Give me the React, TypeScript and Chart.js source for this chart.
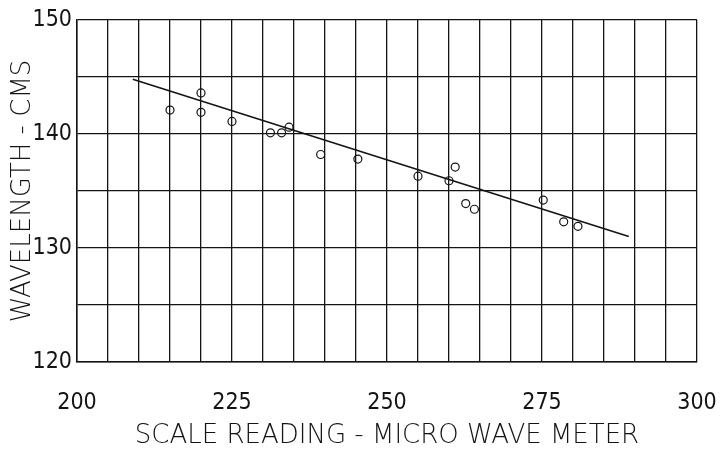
import { useEffect, useRef } from "react";
import { Chart, registerables } from "chart.js";

Chart.register(...registerables);

// Measured points: scale reading of the micro wave meter vs wavelength (cm)
const scaleReading = [215, 220, 220, 225, 231.2, 233, 234.2, 239.3, 245.3, 255, 260, 261, 262.7, 264.1, 275.2, 278.5, 280.8];
const wavelength = [142.1, 143.6, 141.9, 141.1, 140.1, 140.1, 140.6, 138.2, 137.8, 136.3, 135.9, 137.1, 133.9, 133.4, 134.2, 132.3, 131.9];

// Fitted straight line (end points)
const fitLineX = [209, 289];
const fitLineY = [144.8, 131.0];

// Labelled ticks
const xTickLabels = [200, 225, 250, 275, 300];
const yTickLabels = [120, 130, 140, 150];

const xTitle = "SCALE READING - MICRO WAVE METER";
const yTitle = "WAVELENGTH - CMS";

const INK = "#141414";
const tickFont = { family: "'Liberation Sans Narrow', 'DejaVu Sans Condensed', 'Liberation Sans', sans-serif", size: 23 };
const titleFont = { family: "'DejaVu Sans', sans-serif", size: 26, weight: "200" as any, lineHeight: 1 };

export default function App() {
  const ref = useRef<HTMLCanvasElement>(null);

  useEffect(() => {
    document.body.style.margin = "0";
    const chart = new Chart(ref.current as HTMLCanvasElement, {
      type: "scatter",
      data: {
        datasets: [
          {
            data: scaleReading.map((x, i) => ({ x, y: wavelength[i] })),
            showLine: false,
            pointStyle: "circle",
            pointRadius: 4,
            pointBorderWidth: 1.2,
            pointBorderColor: INK,
            pointBackgroundColor: "rgba(0,0,0,0)",
            borderColor: INK,
            backgroundColor: "rgba(0,0,0,0)",
          },
          {
            data: fitLineX.map((x, i) => ({ x, y: fitLineY[i] })),
            showLine: true,
            pointRadius: 0,
            borderColor: INK,
            borderWidth: 1.6,
            backgroundColor: "rgba(0,0,0,0)",
          },
        ],
      },
      options: {
        responsive: false,
        animation: false,
        devicePixelRatio: 1,
        layout: { padding: { left: 0, right: 0, top: 20, bottom: 0 } },
        plugins: { legend: { display: false }, tooltip: { enabled: false } },
        scales: {
          x: {
            type: "linear",
            min: 200,
            max: 300,
            afterFit: (s: any) => {
              s.height = 87;
              s.paddingRight = 24;
            },
            ticks: {
              stepSize: 5,
              autoSkip: false,
              maxRotation: 0,
              padding: 27,
              color: INK,
              font: tickFont,
              callback: (v: any) => (xTickLabels.includes(Number(v)) ? String(v) : ""),
            },
            grid: { color: INK, lineWidth: 1.3, drawTicks: false },
            border: { color: INK, width: 1.5 },
            title: { display: true, text: xTitle, color: INK, font: titleFont, padding: 0 },
          },
          y: {
            type: "linear",
            min: 120,
            max: 150,
            afterFit: (s: any) => {
              s.width = 77;
            },
            ticks: {
              stepSize: 5,
              autoSkip: false,
              padding: 5,
              color: INK,
              font: tickFont,
              callback: (v: any) => (yTickLabels.includes(Number(v)) ? String(v) : ""),
            },
            grid: { color: INK, lineWidth: 1.3, drawTicks: false },
            border: { color: INK, width: 1.5 },
            title: { display: true, text: yTitle, color: INK, font: titleFont, padding: { top: 10, bottom: 0 } },
          },
        },
      },
    });
    return () => chart.destroy();
  }, []);

  return <canvas ref={ref} width={721} height={449} style={{ display: "block", background: "#ffffff" }} />;
}
